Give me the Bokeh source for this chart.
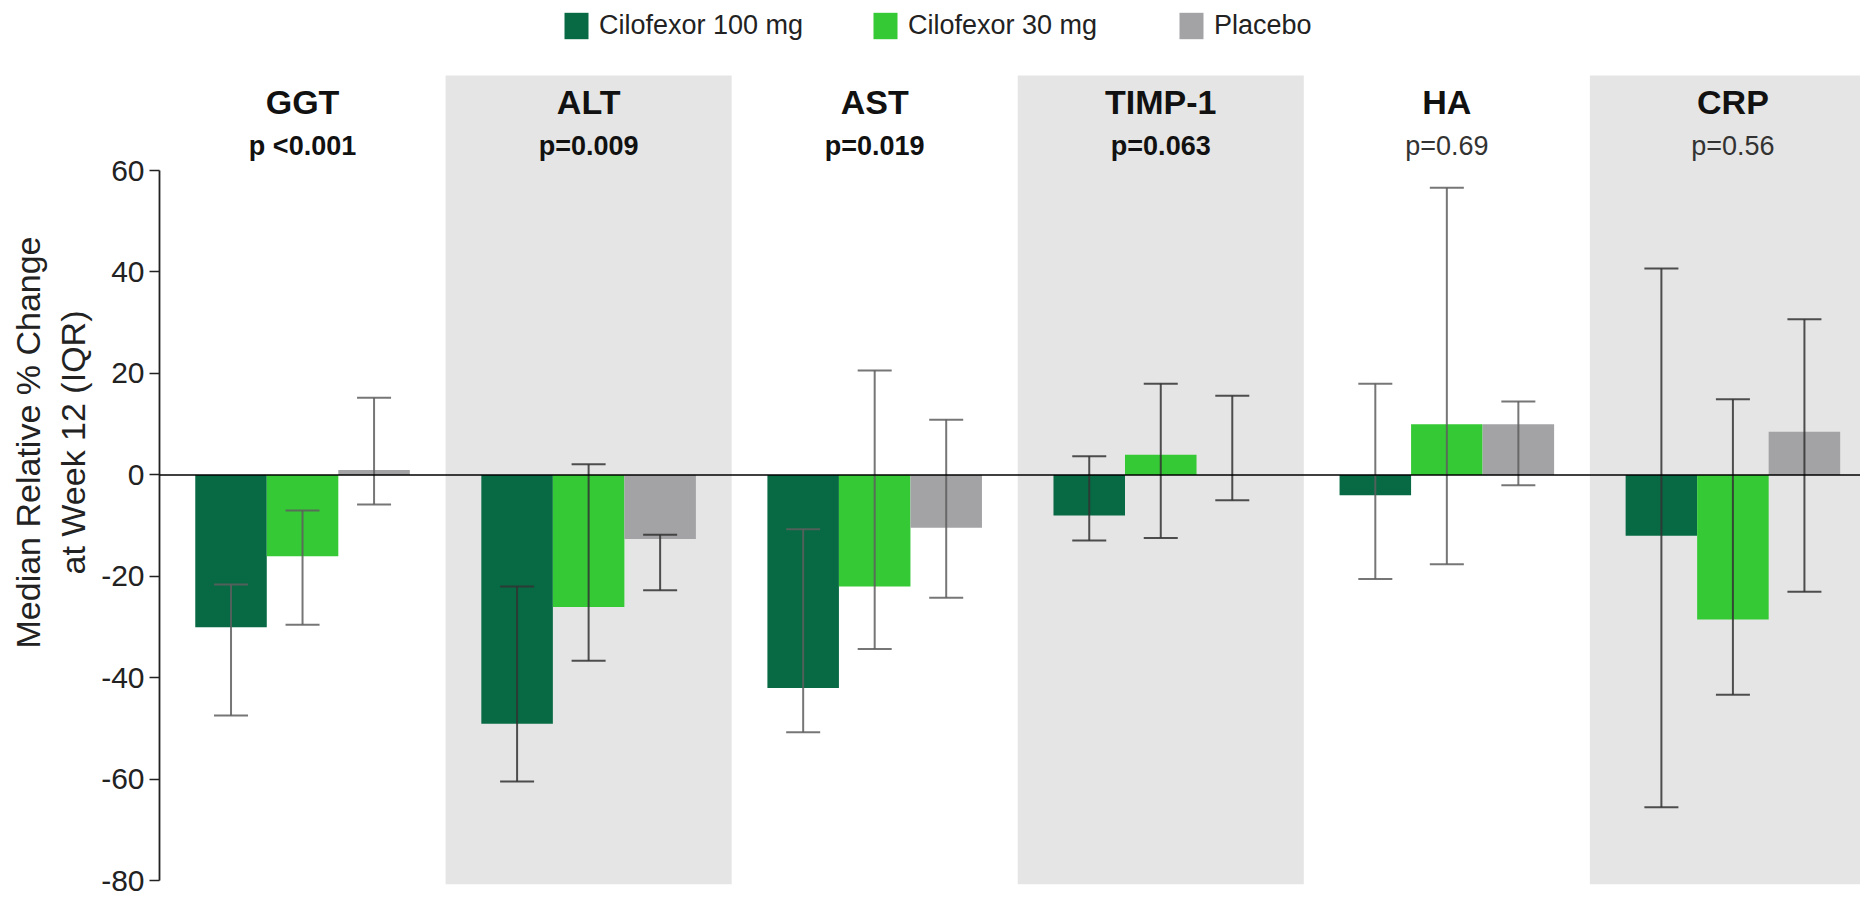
from bokeh.plotting import figure
from bokeh.models import (Range1d, FixedTicker, Span, Whisker, TeeHead,
                          ColumnDataSource, Legend, LegendItem)
from bokeh.core.properties import value
from bokeh.embed import file_html
from bokeh.resources import INLINE
import numpy as np

# ---------------- data ----------------
markers = ["GGT", "ALT", "AST", "TIMP-1", "HA", "CRP"]
p_labels = ["p <0.001", "p=0.009", "p=0.019", "p=0.063", "p=0.69", "p=0.56"]
p_values = [0.001, 0.009, 0.019, 0.063, 0.69, 0.56]

series_names = ["Cilofexor 100 mg", "Cilofexor 30 mg", "Placebo"]

median_100 = [-30.0, -49.0, -42.0, -8.0, -4.0, -12.0]
q1_100 = [-47.4, -60.4, -50.7, -12.9, -20.5, -65.5]
q3_100 = [-21.6, -22.0, -10.7, 3.7, 18.0, 40.7]

median_30 = [-16.0, -26.0, -22.0, 4.0, 10.0, -28.5]
q1_30 = [-29.5, -36.6, -34.3, -12.4, -17.6, -43.3]
q3_30 = [-7.0, 2.1, 20.6, 18.0, 56.6, 14.9]

median_pbo = [1.0, -12.6, -10.4, 0.0, 10.0, 8.5]
q1_pbo = [-5.8, -22.7, -24.2, -5.0, -2.0, -23.0]
q3_pbo = [15.2, -11.8, 10.9, 15.6, 14.5, 30.7]

y_ticks = [-80, -60, -40, -20, 0, 20, 40, 60]
y_tick_labels = ["-80", "-60", "-40", "-20", "0", "20", "40", "60"]
y_title = "Median Relative % Change\nat Week 12 (IQR)"

# ---------------- styling ----------------
FONT = "Liberation Sans"
colors = ["#076a44", "#35c935", "#a3a3a6"]
band_color = "#e5e5e5"
offsets = [-0.25, 0.0, 0.25]
bar_w = 0.25

Y0, Y1 = -80.7, 93.5
p = figure(width=1860, height=897,
           x_range=Range1d(0, 5.946), y_range=Range1d(Y0, Y1),
           x_axis_location=None,
           output_backend="svg", toolbar_location=None,
           min_border_left=159, min_border_right=0,
           min_border_top=0, min_border_bottom=13)
p.xgrid.visible = False
p.ygrid.visible = False
p.outline_line_color = None
p.background_fill_color = "white"

n = len(markers)
idx = np.arange(n)

# shaded panels
shaded = idx[idx % 2 == 1]
p.quad(left=shaded, right=shaded + 1, bottom=Y0, top=78.7,
       fill_color=band_color, line_color=None)

# bars + whiskers
all_series = [(median_100, q1_100, q3_100),
              (median_30, q1_30, q3_30),
              (median_pbo, q1_pbo, q3_pbo)]
bar_renderers = []
for k, (med, lo, hi) in enumerate(all_series):
    xs = idx + 0.5 + offsets[k]
    src = ColumnDataSource(dict(x=xs, top=med, lo=lo, hi=hi,
                                wc=["#333333" if i % 2 == 1 else "#5e5e5e" for i in idx]))
    r = p.vbar(x="x", top="top", bottom=0, width=bar_w, source=src,
               fill_color=colors[k], line_color=None)
    bar_renderers.append(r)
    w = Whisker(base="x", lower="lo", upper="hi", source=src,
                line_color="wc", line_width=2, line_alpha=0.85, level="overlay",
                upper_head=TeeHead(size=34, line_color="wc", line_width=2, line_alpha=0.85),
                lower_head=TeeHead(size=34, line_color="wc", line_width=2, line_alpha=0.85))
    p.add_layout(w)

# zero line
p.add_layout(Span(location=0, dimension="width", line_color="black",
                  line_width=1.6, level="overlay"))

# headers
hsrc = ColumnDataSource(dict(x=idx + 0.5, y=[73.5] * n, t=markers))
p.text(x="x", y="y", text="t", source=hsrc, text_align="center",
       text_baseline="middle", text_font=value(FONT),
       text_font_size="34px", text_font_style="bold", text_color="#111111")

bold = [pv < 0.1 for pv in p_values]
psrc = ColumnDataSource(dict(x=idx + 0.5, y=[64.9] * n, t=p_labels,
                             st=["bold" if b else "normal" for b in bold],
                             c=["#111111" if b else "#333333" for b in bold]))
p.text(x="x", y="y", text="t", source=psrc, text_align="center",
       text_baseline="middle", text_font=value(FONT),
       text_font_size="27px", text_font_style="st", text_color="c")

# y axis
ax = p.yaxis[0]
ax.ticker = FixedTicker(ticks=y_ticks)
ax.major_label_overrides = {t: s for t, s in zip(y_ticks, y_tick_labels)}
ax.bounds = (min(y_ticks), max(y_ticks))
ax.minor_tick_line_color = None
ax.major_tick_in = 0
ax.major_tick_out = 10
ax.major_tick_line_width = 1.5
ax.major_tick_line_color = "#222222"
ax.axis_line_width = 1.8
ax.axis_line_color = "#222222"
ax.major_label_text_font = FONT
ax.major_label_text_font_size = "30px"
ax.major_label_text_color = "#222222"
ax.major_label_standoff = 5
ax.axis_label = y_title
ax.axis_label_text_font = FONT
ax.axis_label_text_font_size = "34px"
ax.axis_label_text_font_style = "normal"
ax.axis_label_text_color = "#222222"
ax.axis_label_standoff = 6

# legends (one per item, positioned along the top)
leg_x = [402, 711, 1017]
for k in range(3):
    lg = Legend(items=[LegendItem(label=series_names[k], renderers=[bar_renderers[k]])],
                location=(leg_x[k], 842), orientation="horizontal",
                glyph_width=30, glyph_height=33, label_standoff=8,
                padding=0, margin=0, spacing=0,
                border_line_alpha=0, background_fill_alpha=0,
                label_text_font=FONT, label_text_font_size="27px",
                label_text_color="#222222")
    p.add_layout(lg)

open("out.html", "w").write(file_html(p, INLINE))
